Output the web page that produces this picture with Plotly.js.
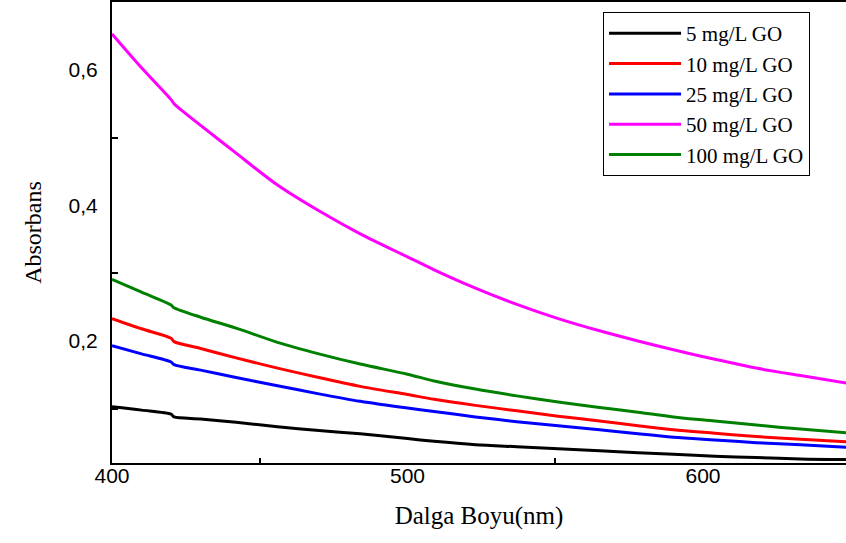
<!DOCTYPE html>
<html>
<head>
<meta charset="utf-8">
<script src="https://cdn.plot.ly/plotly-3.0.1.min.js"></script>
<style>html,body{margin:0;padding:0;background:#fff;}#chart{width:846px;height:543px;}</style>
</head>
<body>
<div id="chart"></div>
<script>
var wavelength = [400, 410, 420, 421, 430, 442, 456, 470, 484, 500, 509, 523, 537, 551, 565, 578, 590, 604, 618, 633, 650];
var go5   = [0.103, 0.098, 0.092, 0.088, 0.085, 0.080, 0.0735, 0.068, 0.063, 0.056, 0.052, 0.047, 0.044, 0.041, 0.038, 0.035, 0.033, 0.030, 0.028, 0.026, 0.025];
var go10  = [0.233, 0.218, 0.204, 0.199, 0.189, 0.175, 0.160, 0.146, 0.133, 0.121, 0.114, 0.105, 0.097, 0.089, 0.082, 0.075, 0.069, 0.064, 0.059, 0.055, 0.051];
var go25  = [0.193, 0.181, 0.169, 0.165, 0.157, 0.146, 0.134, 0.122, 0.111, 0.101, 0.096, 0.088, 0.081, 0.075, 0.069, 0.063, 0.058, 0.054, 0.050, 0.047, 0.043];
var go50  = [0.653, 0.603, 0.556, 0.550, 0.518, 0.477, 0.430, 0.392, 0.358, 0.324, 0.305, 0.278, 0.254, 0.233, 0.215, 0.200, 0.187, 0.173, 0.160, 0.149, 0.137];
var go100 = [0.291, 0.272, 0.253, 0.249, 0.235, 0.219, 0.198, 0.181, 0.166, 0.151, 0.141, 0.129, 0.119, 0.110, 0.102, 0.095, 0.088, 0.082, 0.076, 0.070, 0.064];
var seriesNames = ['5 mg/L GO', '10 mg/L GO', '25 mg/L GO', '50 mg/L GO', '100 mg/L GO'];
var seriesColors = ['#000000', '#ff0000', '#0000ff', '#ff00ff', '#008000'];
var seriesData = [go5, go10, go25, go50, go100];
var yTickVals = [0.2, 0.4, 0.6];
var xTickVals = [400, 500, 600];

var traces = seriesData.map(function (ys, i) {
  return {
    x: wavelength, y: ys, type: 'scatter', mode: 'lines',
    name: seriesNames[i],
    line: {color: seriesColors[i], width: 3, shape: 'spline', smoothing: 0.8}
  };
});

var layout = {
  width: 846, height: 543,
  margin: {l: 112, r: 0, t: 2, b: 80, pad: 0},
  paper_bgcolor: '#ffffff', plot_bgcolor: '#ffffff',
  separators: ',.',
  showlegend: true,
  legend: {
    x: 0.669, y: 0.978, xanchor: 'left', yanchor: 'top',
    bgcolor: '#ffffff', bordercolor: '#000000', borderwidth: 1,
    font: {family: 'Liberation Serif, Times New Roman, serif', size: 21, color: '#000'},
    itemwidth: 72,
    tracegroupgap: 0
  },
  xaxis: {
    range: [400, 648.4], showgrid: false, zeroline: false,
    showline: true, linecolor: '#000', linewidth: 2, mirror: true,
    tickmode: 'array', tickvals: xTickVals, ticks: '',
    ticklabelstandoff: -7,
    tickfont: {family: 'Liberation Sans, Arial, sans-serif', size: 21, color: '#000'},
    minor: {tickmode: 'array', tickvals: [450, 550], ticks: 'inside', ticklen: 5, tickwidth: 2, tickcolor: '#000', showgrid: false},
    title: {text: 'Dalga Boyu(nm)', font: {family: 'Liberation Serif, Times New Roman, serif', size: 25, color: '#000'}, standoff: 20}
  },
  yaxis: {
    range: [0.02, 0.70], showgrid: false, zeroline: false,
    showline: true, linecolor: '#000', linewidth: 2, mirror: false,
    tickmode: 'array', tickvals: yTickVals, ticks: '',
    tickformat: '.1f', ticklabelstandoff: 8,
    tickfont: {family: 'Liberation Sans, Arial, sans-serif', size: 21, color: '#000'},
    minor: {tickmode: 'array', tickvals: [0.1, 0.3, 0.5], ticks: 'inside', ticklen: 6, tickwidth: 2, tickcolor: '#000', showgrid: false},
    title: {text: 'Absorbans', font: {family: 'Liberation Serif, Times New Roman, serif', size: 24, color: '#000'}, standoff: 20}
  }
};

Plotly.newPlot('chart', traces, layout, {displayModeBar: false, staticPlot: true});
</script>
</body>
</html>
